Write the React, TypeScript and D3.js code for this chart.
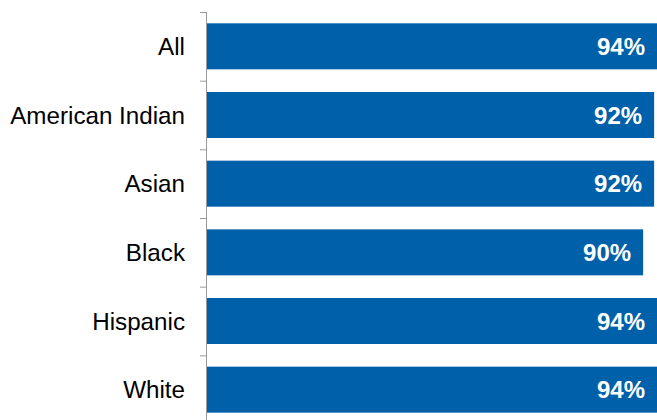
import React from "react";
import * as d3 from "d3";

const categories = ["All", "American Indian", "Asian", "Black", "Hispanic", "White"];
const values = [94, 93.4, 93.4, 91.1, 94, 94];
const labels = ["94%", "92%", "92%", "90%", "94%", "94%"];

export default function App() {
  const W = 657, H = 420;
  const left = 207, top = 12, bottom = 424;
  const y = d3.scaleBand<string>().domain(categories).range([top, bottom]).paddingInner(0.33).paddingOuter(0.165);
  const x = d3.scaleLinear().domain([0, 94]).range([left, W]);
  const step = y.step();
  return (
    <svg width={W} height={H} style={{ position: "absolute", left: 0, top: 0 }} fontFamily="Liberation Sans, Arial, sans-serif">
      {categories.map((c, i) => (
        <g key={c}>
          <rect x={left} y={y(c)} width={x(values[i]) - left} height={y.bandwidth()} fill="#0060A9" />
          <text x={x(values[i]) - 12} y={y(c)! + y.bandwidth() / 2} dy="0.36em" textAnchor="end" fill="#fff" fontWeight="bold" fontSize={24}>{labels[i]}</text>
          <text x={185} y={y(c)! + y.bandwidth() / 2} dy="0.36em" textAnchor="end" fill="#000" fontSize={24.2}>{c}</text>
        </g>
      ))}
      <line x1={206.5} x2={206.5} y1={top} y2={H} stroke="#999" />
      {d3.range(categories.length + 1).map(i => (
        <line key={i} x1={200} x2={206.5} y1={top + i * step + 0.5} y2={top + i * step + 0.5} stroke="#999" />
      ))}
    </svg>
  );
}
